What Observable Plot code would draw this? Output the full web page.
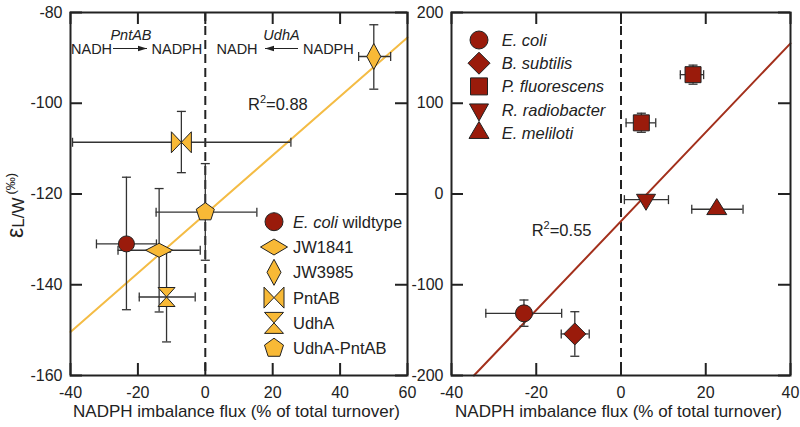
<!DOCTYPE html>
<html><head><meta charset="utf-8">
<script src="https://cdn.jsdelivr.net/npm/d3@7"></script>
<script src="https://cdn.jsdelivr.net/npm/@observablehq/plot@0.6"></script>
<style>
body{margin:0;background:#fff;}
#wrap{position:relative;width:800px;height:427px;overflow:hidden;}
#wrap svg{position:absolute;top:0;}
</style></head><body><div id="wrap"></div>
<script>
// ---------- Left panel data (E. coli strains) ----------
const strainsL = ["E. coli wildtype", "JW1841", "JW3985", "PntAB", "UdhA", "UdhA-PntAB"];
const fluxL    = [-23.4, -13.7, 50.0, -7.1, -11.5, 0.0];
const fluxLoL  = [-32.3, -25.9, 45.5, -39.4, -19.6, -14.6];
const fluxHiL  = [-14.5, -1.5, 55.0, 25.4, -3.0, 15.3];
const epsL     = [-131.0, -132.4, -89.7, -108.6, -142.7, -124.0];
const epsLoL   = [-145.5, -146.0, -96.9, -115.3, -152.6, -134.6];
const epsHiL   = [-116.3, -118.8, -82.7, -101.8, -132.8, -113.3];
const fitXL = [-40, 60];
const fitYL = [-150.4, -85.5];
const xTicksL = [-40, -20, 0, 20, 40, 60];
const yTicksL = [-160, -140, -120, -100, -80];

// ---------- Right panel data (species) ----------
const speciesR = ["E. coli", "B. subtilis", "P. fluorescens", "P. fluorescens", "R. radiobacter", "E. meliloti"];
const fluxR    = [-22.9, -10.9, 17.0, 4.8, 5.9, 22.6];
const fluxLoR  = [-31.9, -14.1, 14.0, 1.2, 0.8, 16.7];
const fluxHiR  = [-14.0, -7.5, 19.5, 8.2, 11.2, 28.8];
const epsR     = [-131.5, -154.2, 131.5, 78.4, -6.2, -16.8];
const epsLoR   = [-145.8, -178.8, 121.0, 68.0, -6.2, -16.8];
const epsHiR   = [-116.8, -129.7, 142.0, 89.0, -6.2, -16.8];
const legendR  = ["E. coli", "B. subtilis", "P. fluorescens", "R. radiobacter", "E. meliloti"];
const fitXR = [-34.7, 40];
const fitYR = [-200, 166];
const xTicksR = [-40, -20, 0, 20, 40];
const yTicksR = [-200, -100, 0, 100, 200];

const xLabel = "NADPH imbalance flux (% of total turnover)";

// ---------- styles ----------
const FONT = "'Liberation Sans', Arial, sans-serif";
const ORANGE = "#F8B936", ORANGE_LINE = "#F4BC45";
const RED = "#9A1B0B", RED_LINE = "#A3301C";
const INK = "#222", BAR = "#333";

function poly(pts) {
  return {draw(ctx) { ctx.moveTo(pts[0][0], pts[0][1]); for (const p of pts.slice(1)) ctx.lineTo(p[0], p[1]); ctx.closePath(); }};
}
const circleSym = r => ({draw(ctx) { ctx.moveTo(r, 0); ctx.arc(0, 0, r, 0, 2 * Math.PI); ctx.closePath(); }});
const diamondSym = (w, h) => poly([[0, -h/2], [w/2, 0], [0, h/2], [-w/2, 0]]);
const bowtieSym = (w, h) => ({draw(ctx) {
  ctx.moveTo(-w/2, -h/2); ctx.lineTo(0, 0); ctx.lineTo(-w/2, h/2); ctx.closePath();
  ctx.moveTo(w/2, -h/2); ctx.lineTo(0, 0); ctx.lineTo(w/2, h/2); ctx.closePath(); }});
const hourglassSym = (w, h) => ({draw(ctx) {
  ctx.moveTo(-w/2, -h/2); ctx.lineTo(w/2, -h/2); ctx.lineTo(0, 0); ctx.closePath();
  ctx.moveTo(-w/2, h/2); ctx.lineTo(w/2, h/2); ctx.lineTo(0, 0); ctx.closePath(); }});
const pentagonSym = r => poly(d3.range(5).map(i => [r * Math.sin(i * 2 * Math.PI / 5), -r * Math.cos(i * 2 * Math.PI / 5)]));
const squareSym = s => poly([[-s/2, -s/2], [s/2, -s/2], [s/2, s/2], [-s/2, s/2]]);
const triUpSym = (w, h) => poly([[0, -2*h/3], [w/2, h/3], [-w/2, h/3]]);
const triDownSym = (w, h) => poly([[0, 2*h/3], [w/2, -h/3], [-w/2, -h/3]]);
const capH = len => ({draw(ctx) { ctx.moveTo(-len/2, 0); ctx.lineTo(len/2, 0); }});
const capV = len => ({draw(ctx) { ctx.moveTo(0, -len/2); ctx.lineTo(0, len/2); }});

const styleL = {
  "E. coli wildtype": {sym: circleSym(8), fill: RED, leg: circleSym(9)},
  "JW1841": {sym: diamondSym(27, 14), fill: ORANGE, leg: diamondSym(27, 16)},
  "JW3985": {sym: diamondSym(14, 26), fill: ORANGE, leg: diamondSym(14, 26)},
  "PntAB": {sym: bowtieSym(20, 21), fill: ORANGE, leg: bowtieSym(20, 21)},
  "UdhA": {sym: hourglassSym(17, 19), fill: ORANGE, leg: hourglassSym(19, 21)},
  "UdhA-PntAB": {sym: pentagonSym(9.5), fill: ORANGE, leg: pentagonSym(10)}
};
const styleR = {
  "E. coli": {sym: circleSym(8.5), leg: circleSym(9)},
  "B. subtilis": {sym: diamondSym(22, 22), leg: diamondSym(22, 22)},
  "P. fluorescens": {sym: squareSym(16), leg: squareSym(17)},
  "R. radiobacter": {sym: triDownSym(19, 16), leg: triDownSym(19, 17)},
  "E. meliloti": {sym: triUpSym(20, 16), leg: triUpSym(20, 17)}
};

const rowsL = strainsL.map((s, i) => ({s, x: fluxL[i], xlo: fluxLoL[i], xhi: fluxHiL[i], y: epsL[i], ylo: epsLoL[i], yhi: epsHiL[i]}));
const rowsR = speciesR.map((s, i) => ({s, x: fluxR[i], xlo: fluxLoR[i], xhi: fluxHiR[i], y: epsR[i], ylo: epsLoR[i], yhi: epsHiR[i]}));
const fitL = fitXL.map((x, i) => ({x, y: fitYL[i]}));
const fitR = fitXR.map((x, i) => ({x, y: fitYR[i]}));

const H = 427, MT = 12, MB = 52, TICK = 12;

function panel({width, marginLeft, marginRight, xDomain, yDomain, xTicks, yTicks, rows, fit, fitColor, styles, fillOf}) {
  const iw = width - marginLeft - marginRight, ih = H - MT - MB;
  const marks = [
    Plot.ruleX([0], {stroke: INK, strokeWidth: 2, strokeDasharray: "9,5"}),
    Plot.line(fit, {x: "x", y: "y", stroke: fitColor, strokeWidth: 2}),
    Plot.tickX(xTicks, {x: d => d, insetTop: ih - TICK, stroke: INK, strokeWidth: 2}),
    Plot.tickX(xTicks, {x: d => d, insetBottom: ih - TICK, stroke: INK, strokeWidth: 2}),
    Plot.tickY(yTicks, {y: d => d, insetRight: iw - TICK, stroke: INK, strokeWidth: 2}),
    Plot.tickY(yTicks, {y: d => d, insetLeft: iw - TICK, stroke: INK, strokeWidth: 2}),
    Plot.frame({stroke: INK, strokeWidth: 2}),
    Plot.axisX({ticks: xTicks, tickSize: 0, tickPadding: 11, tickFormat: d => String(d), label: null}),
    Plot.axisY({ticks: yTicks, tickSize: 0, tickPadding: 8, tickFormat: d => String(d), label: null}),
    Plot.ruleY(rows, {y: "y", x1: "xlo", x2: "xhi", stroke: BAR, strokeWidth: 1.3}),
    Plot.ruleX(rows.filter(d => d.ylo !== d.yhi), {x: "x", y1: "ylo", y2: "yhi", stroke: BAR, strokeWidth: 1.3}),
    Plot.dot(rows, {x: "xlo", y: "y", symbol: capV(9), fill: "none", stroke: BAR, strokeWidth: 1.3}),
    Plot.dot(rows, {x: "xhi", y: "y", symbol: capV(9), fill: "none", stroke: BAR, strokeWidth: 1.3}),
    Plot.dot(rows.filter(d => d.ylo !== d.yhi), {x: "x", y: "ylo", symbol: capH(9), fill: "none", stroke: BAR, strokeWidth: 1.3}),
    Plot.dot(rows.filter(d => d.ylo !== d.yhi), {x: "x", y: "yhi", symbol: capH(9), fill: "none", stroke: BAR, strokeWidth: 1.3})
  ];
  for (const name of Object.keys(styles)) {
    marks.push(Plot.dot(rows.filter(d => d.s === name), {x: "x", y: "y", symbol: styles[name].sym, fill: fillOf(name), stroke: INK, strokeWidth: 1}));
  }
  const svg = Plot.plot({
    width, height: H, marginLeft, marginRight, marginTop: MT, marginBottom: MB,
    x: {domain: xDomain},
    y: {domain: yDomain},
    style: {fontSize: "16px", fontFamily: FONT, color: INK, background: "none", overflow: "visible"},
    marks
  });
  d3.select(svg).append("text").attr("x", (marginLeft + width - marginRight) / 2 - 2).attr("y", 417)
    .attr("text-anchor", "middle").attr("font-family", FONT).attr("font-size", 17).attr("fill", INK).text(xLabel);
  return svg;
}

const wrap = document.getElementById("wrap");

const left = panel({width: 420, marginLeft: 70, marginRight: 13, xDomain: [-40, 60], yDomain: [-160, -80],
  xTicks: xTicksL, yTicks: yTicksL, rows: rowsL, fit: fitL, fitColor: ORANGE_LINE, styles: styleL, fillOf: n => styleL[n].fill});
left.style.left = "0px";
wrap.appendChild(left);

const right = panel({width: 400, marginLeft: 51, marginRight: 10, xDomain: [-40, 40], yDomain: [-200, 200],
  xTicks: xTicksR, yTicks: yTicksR, rows: rowsR, fit: fitR, fitColor: RED_LINE, styles: styleR, fillOf: () => RED});
right.style.left = "400px";
wrap.appendChild(right);

function symPath(sym) { const p = d3.path(); sym.draw(p, 0); return p.toString(); }

// ---------- left legend ----------
const gL = d3.select(left).append("g").attr("font-family", FONT).attr("font-size", 16.5).attr("fill", INK).attr("text-anchor", "start");
strainsL.forEach((name, i) => {
  const cy = 221.7 + i * 25.3;
  gL.append("path").attr("d", symPath(styleL[name].leg)).attr("transform", `translate(274,${cy})`)
    .attr("fill", styleL[name].fill).attr("stroke", INK).attr("stroke-width", 1);
  const t = gL.append("text").attr("x", 293).attr("y", cy + 6);
  if (name.startsWith("E. coli")) {
    t.append("tspan").attr("font-style", "italic").text("E. coli");
    t.append("tspan").text(name.slice(7));
  } else t.text(name);
});

// ---------- top annotations (left panel) ----------
const gA = d3.select(left).append("g").attr("font-family", FONT).attr("fill", INK).attr("text-anchor", "start");
gA.append("defs").html('<marker id="ah" viewBox="0 0 10 10" refX="10" refY="5" markerUnits="userSpaceOnUse" markerWidth="9" markerHeight="9" orient="auto-start-reverse"><path d="M0,2 L10,5 L0,8 z" fill="#222"/></marker>');
gA.append("text").attr("x", 71).attr("y", 54).attr("font-size", 14.5).text("NADH");
gA.append("line").attr("x1", 113).attr("x2", 147).attr("y1", 48.5).attr("y2", 48.5).attr("stroke", INK).attr("stroke-width", 1).attr("marker-end", "url(#ah)");
gA.append("text").attr("x", 131).attr("y", 40).attr("font-size", 14.5).attr("font-style", "italic").attr("text-anchor", "middle").text("PntAB");
gA.append("text").attr("x", 151.5).attr("y", 54).attr("font-size", 14.5).text("NADPH");
gA.append("text").attr("x", 216.5).attr("y", 54).attr("font-size", 14.5).text("NADH");
gA.append("line").attr("x1", 298).attr("x2", 265).attr("y1", 48.5).attr("y2", 48.5).attr("stroke", INK).attr("stroke-width", 1).attr("marker-end", "url(#ah)");
gA.append("text").attr("x", 281.5).attr("y", 40).attr("font-size", 14.5).attr("font-style", "italic").attr("text-anchor", "middle").text("UdhA");
gA.append("text").attr("x", 303).attr("y", 54).attr("font-size", 14.5).text("NADPH");
const r2L = gA.append("text").attr("x", 248).attr("y", 110).attr("font-size", 16.5);
r2L.append("tspan").text("R");
r2L.append("tspan").attr("font-size", 11).attr("dy", -7).text("2");
r2L.append("tspan").attr("dy", 7).text("=0.88");

// ---------- y label ----------
const yl = d3.select(left).append("text").attr("font-family", FONT).attr("fill", INK).attr("text-anchor", "start")
  .attr("transform", "translate(23,238) rotate(-90)");
yl.append("tspan").attr("font-size", 23).text("ε");
yl.append("tspan").attr("font-size", 17).attr("dy", 1).text("L/W");
yl.append("tspan").attr("font-size", 13).attr("dy", -9).attr("dx", 3).text("(‰)");

// ---------- right legend & R² ----------
const gR = d3.select(right).append("g").attr("font-family", FONT).attr("font-size", 16.5).attr("fill", INK).attr("text-anchor", "start");
legendR.forEach((name, i) => {
  const cy = 40 + i * 23.2;
  gR.append("path").attr("d", symPath(styleR[name].leg)).attr("transform", `translate(79,${cy})`)
    .attr("fill", RED).attr("stroke", INK).attr("stroke-width", 1);
  gR.append("text").attr("x", 101.7).attr("y", cy + 6).attr("font-style", "italic").text(name);
});
const r2R = gR.append("text").attr("x", 131.7).attr("y", 236);
r2R.append("tspan").text("R");
r2R.append("tspan").attr("font-size", 11).attr("dy", -7).text("2");
r2R.append("tspan").attr("dy", 7).text("=0.55");
</script>
</body></html>
